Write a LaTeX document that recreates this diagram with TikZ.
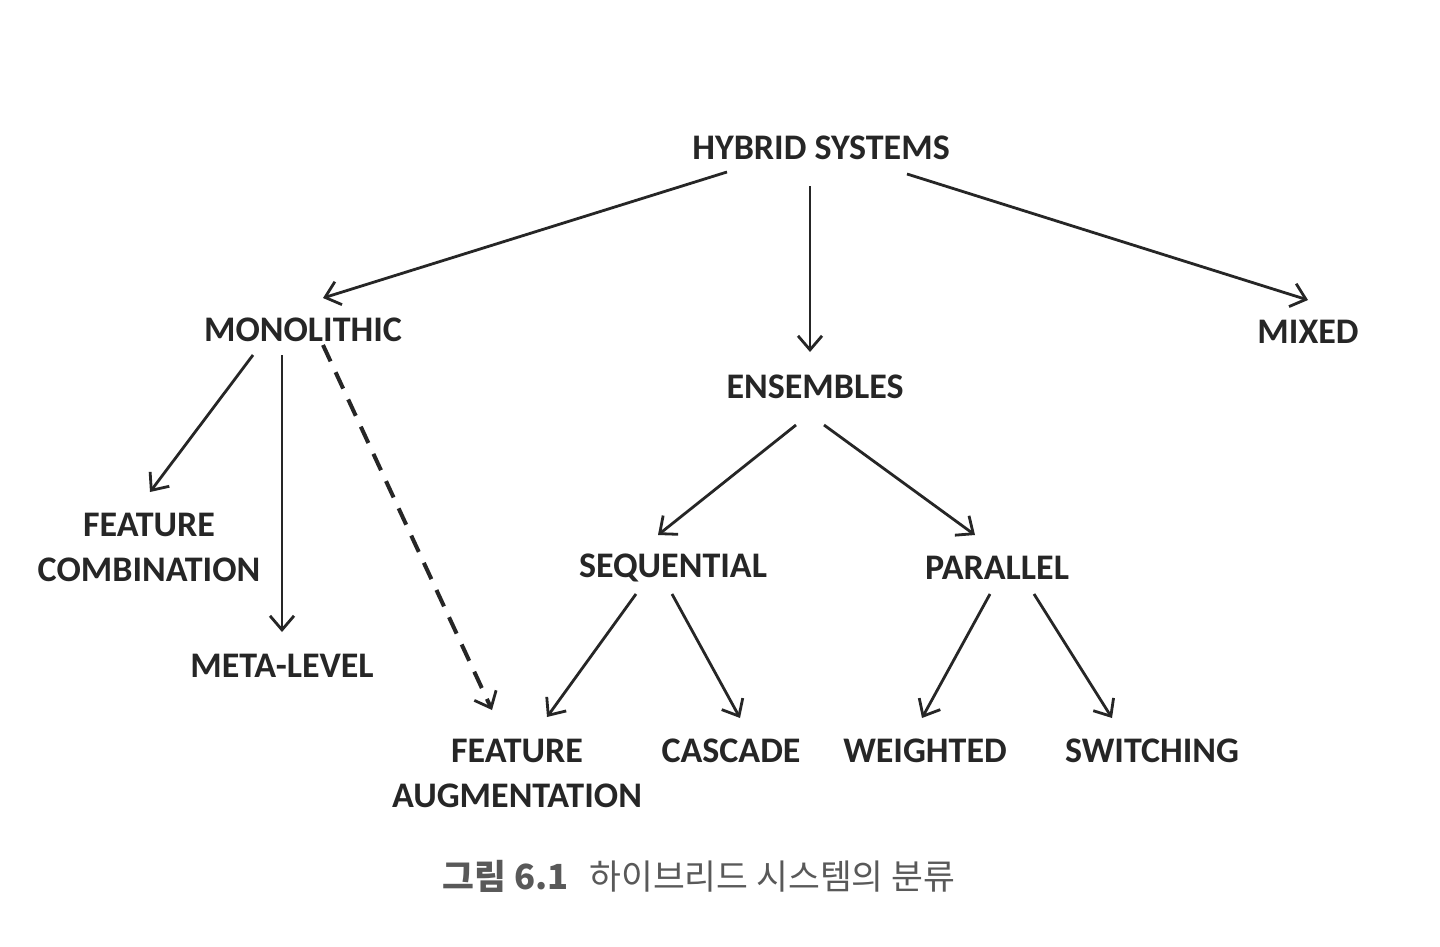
\documentclass[tikz,border=0pt]{standalone}
\usepackage{fontspec}
\setmainfont{Carlito}
\newfontfamily\krfont{Noto Sans CJK KR}
\usetikzlibrary{arrows.meta,calc}

\tikzset{
  lbl/.style={font=\bfseries\fontsize{18}{22.5}\selectfont, align=center, inner sep=0pt, text=black!85},
  arr/.style={-{Straight Barb[length=7pt,width=12pt,line width=1.4pt]}, line width=1.4pt, black!85},
  dasharr/.style={arr, line width=2pt, dash pattern=on 9pt off 6pt}
}

\begin{document}
\begin{tikzpicture}[x=0.5pt,y=-0.5pt]
    \useasboundingbox[fill=white] (0,0) rectangle (1440,947);

    % Categories
    \node[lbl] (hybrid) at (821,148) {HYBRID SYSTEMS};
    \node[lbl] (mono) at (303,330) {MONOLITHIC};
    \node[lbl] (ens) at (815,387) {ENSEMBLES};
    \node[lbl] (mixed) at (1308,332) {MIXED};

    % Monolithic designs
    \node[lbl] (fc) at (149,547) {FEATURE\\COMBINATION};
    \node[lbl] (meta) at (282,666) {META-LEVEL};
    \node[lbl] (fa) at (517,773) {FEATURE\\AUGMENTATION};

    % Ensemble designs
    \node[lbl] (seq) at (673,568) {SEQUENTIAL};
    \node[lbl] (par) at (997,568) {PARALLEL};
    \node[lbl] (casc) at (731,751) {CASCADE};
    \node[lbl] (wgt) at (925,751) {WEIGHTED};
    \node[lbl] (sw) at (1152,751) {SWITCHING};

    % Arrows from the top
    \draw[arr] ($(hybrid)+(-94,24)$) -- ($(mono)+(20,-32)$);
    \draw[arr] ($(hybrid)+(-11,38)$) -- ($(ens)+(-5,-35)$);
    \draw[arr] ($(hybrid)+(86,26)$) -- ($(mixed)+(0,-32)$);

    % Arrows below monolithic
    \draw[arr] ($(mono)+(-50,25)$) -- ($(fc)+(1,-55)$);
    \draw[arr] ($(mono)+(-21,25)$) -- ($(meta)+(0,-34)$);
    \draw[dasharr] ($(mono)+(20,15)$) -- ($(fa)+(-25,-63)$);

    % Arrows below ensembles
    \draw[arr] ($(ens)+(-19,38)$) -- ($(seq)+(-15,-33)$);
    \draw[arr] ($(ens)+(9,38)$) -- ($(par)+(-22,-33)$);
    \draw[arr] ($(seq)+(-37,26)$) -- ($(fa)+(30,-56)$);
    \draw[arr] ($(seq)+(-1,26)$) -- ($(casc)+(9,-33)$);
    \draw[arr] ($(par)+(-7,26)$) -- ($(wgt)+(-3,-33)$);
    \draw[arr] ($(par)+(37,26)$) -- ($(sw)+(-40,-33)$);

    % Caption
    \node[font=\krfont\fontsize{17.3}{21}\selectfont, text=black!65, inner sep=0pt] (cap) at (699,876)
      {\textbf{그림 6.1}\hspace{0.6em}하이브리드 시스템의 분류};
\end{tikzpicture}
\end{document}
